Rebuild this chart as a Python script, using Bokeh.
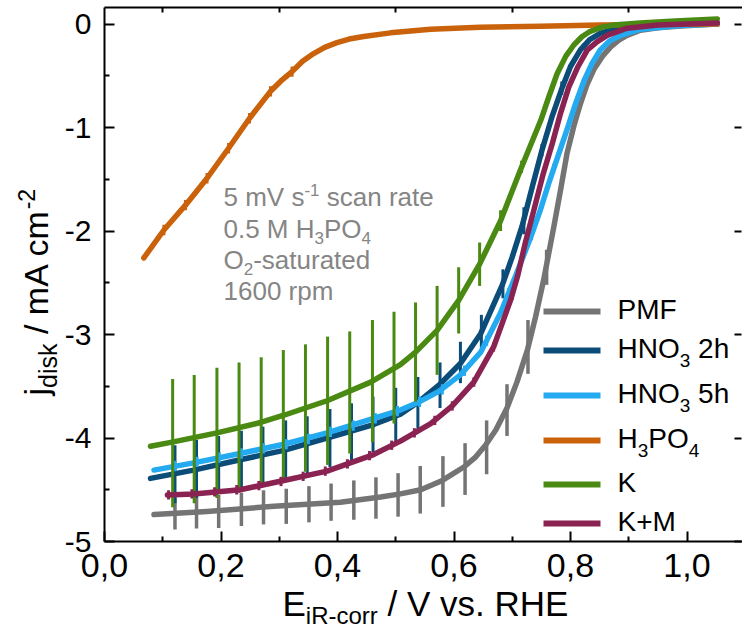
import numpy as np
from bokeh.plotting import figure
from bokeh.models import Range1d, LinearAxis, FixedTicker, CustomJSTickFormatter, Label
from bokeh.embed import file_html
from bokeh.resources import INLINE

# ---------------- data (E in V vs RHE, j in mA cm^-2) ----------------
series_names = ["PMF", "HNO3 2h", "HNO3 5h", "H3PO4", "K", "K+M"]

pmf_E = [0.085, 0.176, 0.291, 0.405, 0.474, 0.508, 0.543, 0.580, 0.617, 0.636, 0.654, 0.672, 0.691, 0.708,
         0.726, 0.740, 0.754, 0.771, 0.783, 0.794, 0.806, 0.817, 0.828, 0.840, 0.855, 0.869, 0.883, 0.897,
         0.920, 0.950, 0.989, 1.052]
pmf_j = [-4.74, -4.71, -4.66, -4.62, -4.57, -4.54, -4.50, -4.41, -4.28, -4.19, -4.07, -3.92, -3.71, -3.46,
         -3.15, -2.83, -2.47, -1.97, -1.60, -1.25, -0.98, -0.77, -0.59, -0.44, -0.31, -0.22, -0.155, -0.11,
         -0.06, -0.035, -0.02, 0.00]

h2_E = [0.079, 0.153, 0.233, 0.308, 0.382, 0.462, 0.508, 0.537, 0.574, 0.611, 0.646, 0.683, 0.700, 0.717,
        0.734, 0.751, 0.768, 0.786, 0.800, 0.817, 0.833, 0.851, 0.872, 0.897, 0.940, 1.052]
h2_j = [-4.39, -4.31, -4.21, -4.12, -4.00, -3.87, -3.77, -3.66, -3.49, -3.28, -2.99, -2.52, -2.25, -1.95,
        -1.58, -1.22, -0.90, -0.61, -0.41, -0.25, -0.15, -0.09, -0.05, -0.03, -0.01, 0.01]

h5_E = [0.085, 0.153, 0.233, 0.308, 0.382, 0.462, 0.508, 0.537, 0.574, 0.611, 0.646, 0.680, 0.706, 0.731,
        0.748, 0.762, 0.777, 0.794, 0.808, 0.823, 0.837, 0.851, 0.868, 0.886, 0.920, 0.989, 1.052]
h5_j = [-4.31, -4.24, -4.15, -4.06, -3.95, -3.81, -3.73, -3.66, -3.55, -3.39, -3.17, -2.79, -2.43, -2.07,
        -1.80, -1.55, -1.30, -1.02, -0.78, -0.55, -0.38, -0.25, -0.16, -0.11, -0.05, -0.015, 0.00]

hp_E = [0.0675, 0.102, 0.139, 0.176, 0.213, 0.249, 0.285, 0.303, 0.322, 0.340, 0.359, 0.378, 0.399, 0.420,
        0.445, 0.491, 0.560, 0.645, 0.749, 0.851, 0.950, 1.052]
hp_j = [-2.26, -1.99, -1.75, -1.49, -1.20, -0.91, -0.65, -0.55, -0.46, -0.36, -0.285, -0.225, -0.18, -0.145,
        -0.12, -0.085, -0.05, -0.03, -0.02, -0.01, -0.005, 0.00]

k_E = [0.079, 0.116, 0.193, 0.268, 0.308, 0.382, 0.457, 0.508, 0.534, 0.571, 0.608, 0.644, 0.680, 0.714,
       0.749, 0.763, 0.777, 0.792, 0.806, 0.820, 0.834, 0.854, 0.874, 0.920, 0.980, 1.052]
k_j = [-4.08, -4.04, -3.95, -3.85, -3.78, -3.64, -3.46, -3.29, -3.17, -2.96, -2.67, -2.32, -1.90, -1.41,
       -0.93, -0.70, -0.48, -0.31, -0.20, -0.12, -0.07, -0.03, -0.01, 0.01, 0.03, 0.05]

km_E = [0.108, 0.153, 0.233, 0.308, 0.382, 0.462, 0.508, 0.560, 0.597, 0.634, 0.668, 0.697, 0.709, 0.723,
        0.737, 0.753, 0.769, 0.783, 0.797, 0.813, 0.829, 0.846, 0.863, 0.897, 0.950, 1.052]
km_j = [-4.55, -4.54, -4.50, -4.41, -4.32, -4.16, -4.03, -3.86, -3.69, -3.46, -3.12, -2.67, -2.44, -2.10,
        -1.80, -1.45, -1.15, -0.86, -0.61, -0.41, -0.25, -0.17, -0.11, -0.04, -0.01, 0.01]

# error bars: position, mean, half-width
pmf_eE = [0.121, 0.158, 0.196, 0.235, 0.273, 0.312, 0.351, 0.389, 0.428, 0.466, 0.504, 0.542, 0.581, 0.619,
          0.656, 0.691, 0.727, 0.759]
pmf_ej = [-4.73, -4.72, -4.71, -4.69, -4.67, -4.66, -4.64, -4.62, -4.60, -4.58, -4.55, -4.50, -4.42, -4.30,
          -4.09, -3.73, -3.12, -2.35]
pmf_err = [0.155, 0.155, 0.16, 0.16, 0.165, 0.17, 0.175, 0.18, 0.19, 0.20, 0.21, 0.23, 0.245, 0.25,
           0.26, 0.25, 0.26, 0.17]

h2_eE = [0.121, 0.158, 0.196, 0.235, 0.272, 0.311, 0.348, 0.387, 0.424, 0.461, 0.500, 0.538, 0.576, 0.611,
         0.647, 0.684, 0.720, 0.751, 0.785, 0.822]
h2_ej = [-4.35, -4.30, -4.26, -4.21, -4.17, -4.12, -4.07, -4.00, -3.94, -3.87, -3.78, -3.66, -3.49, -3.27,
         -2.97, -2.51, -1.90, -1.22, -0.62, -0.22]
h2_err = [0.28, 0.28, 0.28, 0.28, 0.28, 0.29, 0.28, 0.28, 0.275, 0.27, 0.265, 0.25, 0.22, 0.20,
          0.16, 0.14, 0.13, 0.06, 0.065, 0.03]

h5_eE = [0.121, 0.159, 0.197, 0.235, 0.273, 0.312, 0.350, 0.388, 0.427, 0.465, 0.503, 0.541, 0.580, 0.618,
         0.656, 0.694, 0.733, 0.771]
h5_ej = [-4.27, -4.23, -4.19, -4.15, -4.10, -4.06, -4.01, -3.94, -3.88, -3.81, -3.74, -3.65, -3.53, -3.35,
         -3.06, -2.60, -2.04, -1.40]
h5_err = [0.05, 0.05, 0.05, 0.05, 0.05, 0.05, 0.05, 0.05, 0.05, 0.05, 0.05, 0.05, 0.05, 0.05,
          0.05, 0.05, 0.05, 0.05]

hp_eE = [0.102, 0.139, 0.176, 0.213, 0.249, 0.285, 0.322]
hp_ej = [-1.99, -1.75, -1.49, -1.20, -0.91, -0.65, -0.46]
hp_err = [0.05, 0.05, 0.05, 0.05, 0.05, 0.05, 0.05]

k_eE = [0.117, 0.154, 0.193, 0.231, 0.269, 0.307, 0.345, 0.383, 0.421, 0.460, 0.497, 0.534, 0.571, 0.608,
        0.644, 0.680, 0.716]
k_ej = [-4.05, -4.01, -3.95, -3.90, -3.85, -3.78, -3.71, -3.64, -3.56, -3.45, -3.32, -3.17, -2.96, -2.67,
        -2.32, -1.90, -1.38]
k_err = [0.62, 0.62, 0.63, 0.63, 0.63, 0.63, 0.615, 0.62, 0.59, 0.59, 0.54, 0.48, 0.43, 0.32,
         0.21, 0.10, 0.06]

km_eE = [0.110, 0.150, 0.189, 0.227, 0.265, 0.303, 0.341, 0.379, 0.417, 0.455, 0.493, 0.532, 0.567, 0.597,
         0.634, 0.668, 0.700, 0.726]
km_ej = [-4.55, -4.54, -4.52, -4.50, -4.46, -4.42, -4.37, -4.32, -4.25, -4.17, -4.07, -3.95, -3.83, -3.69,
         -3.46, -3.12, -2.62, -2.04]
km_err = [0.045, 0.045, 0.045, 0.045, 0.045, 0.045, 0.045, 0.045, 0.045, 0.045, 0.045, 0.045, 0.045, 0.045,
          0.045, 0.045, 0.045, 0.045]

x_ticks = [0.0, 0.2, 0.4, 0.6, 0.8, 1.0]
x_minor = [0.1, 0.3, 0.5, 0.7, 0.9]
y_ticks = [-5, -4, -3, -2, -1, 0]
y_minor = [-4.5, -3.5, -2.5, -1.5, -0.5]

# ---------------- layout / style ----------------
# The plot frame spans the whole canvas; axes sit at fixed data positions (with bounds)
# so that the axis titles placed around them are inside the frame.
W, H = 742, 629
AX_L, AX_T, AX_B = 104, 7, 541          # pixel positions of left, top, bottom axis lines
E_AT_LEFT, J_AT_TOP, J_AT_BOTTOM = 0.0, 0.16, -5.0
PX_PER_V = 582.5
PX_PER_J = (AX_B - AX_T) / (J_AT_TOP - J_AT_BOTTOM)
X0 = E_AT_LEFT - AX_L / PX_PER_V
X1 = X0 + W / PX_PER_V
Y1 = J_AT_TOP + AX_T / PX_PER_J
Y0 = Y1 - H / PX_PER_J
FONT = "Liberation Sans"

colors = {"PMF": "#747474", "HNO3 2h": "#0b4c78", "HNO3 5h": "#24aaf0",
          "H3PO4": "#c9620a", "K": "#4a8a12", "K+M": "#8a2352"}

p = figure(width=W, height=H, x_range=Range1d(X0, X1), y_range=Range1d(Y0, Y1),
           output_backend="svg", toolbar_location=None,
           min_border_left=0, min_border_right=0, min_border_top=0, min_border_bottom=0)
p.outline_line_color = None
p.grid.grid_line_color = None
p.background_fill_color = "white"
p.border_fill_color = "white"

def style_axis(ax, ticks, minor, tick_in, minor_in, show_labels=True, line=True):
    ax.ticker = FixedTicker(ticks=ticks, minor_ticks=minor)
    ax.major_tick_in = tick_in
    ax.major_tick_out = 0
    ax.minor_tick_in = minor_in
    ax.minor_tick_out = 0
    ax.major_tick_line_width = 2
    ax.minor_tick_line_width = 2
    ax.major_tick_line_color = "black"
    ax.minor_tick_line_color = "black"
    ax.axis_line_width = 2
    ax.axis_line_color = "black" if line else None
    ax.major_label_text_font = FONT
    ax.major_label_text_font_size = "30px"
    ax.major_label_text_color = "black"
    if show_labels:
        ax.major_label_standoff = 13
    else:
        ax.formatter = CustomJSTickFormatter(code="return '';")
        ax.major_label_standoff = 0

xax = p.xaxis[0]
style_axis(xax, x_ticks, x_minor, 10, 5)
xax.formatter = CustomJSTickFormatter(code="return tick.toFixed(1).replace('.', ',');")
xax.major_label_text_font_size = "34px"
xax.major_label_standoff = 12
xax.fixed_location = J_AT_BOTTOM
xax.bounds = (E_AT_LEFT, X1)

yax = p.yaxis[0]
style_axis(yax, y_ticks, y_minor, 10, 5)
yax.formatter = CustomJSTickFormatter(code="return tick.toFixed(0);")
yax.fixed_location = E_AT_LEFT
yax.bounds = (J_AT_BOTTOM, J_AT_TOP)

top = LinearAxis()
style_axis(top, x_minor, [], 5, 0, show_labels=False)
top.fixed_location = J_AT_TOP
top.bounds = (E_AT_LEFT, X1)
p.add_layout(top, "above")

right = LinearAxis()
style_axis(right, y_ticks, [], 7, 0, show_labels=False, line=False)
right.fixed_location = X1 - 1.0 / PX_PER_V
right.bounds = (J_AT_BOTTOM, J_AT_TOP)
p.add_layout(right, "right")

series = [
    ("PMF", pmf_E, pmf_j, pmf_eE, pmf_ej, pmf_err, 3.5),
    ("HNO3 2h", h2_E, h2_j, h2_eE, h2_ej, h2_err, 3),
    ("HNO3 5h", h5_E, h5_j, h5_eE, h5_ej, h5_err, 3),
    ("H3PO4", hp_E, hp_j, hp_eE, hp_ej, hp_err, 3),
    ("K", k_E, k_j, k_eE, k_ej, k_err, 3),
    ("K+M", km_E, km_j, km_eE, km_ej, km_err, 3),
]
for name, E, j, eE, ej, err, ew in series:
    c = colors[name]
    p.line(E, j, line_color=c, line_width=5.5, line_join="round", line_cap="round")
    ej_a = np.array(ej)
    err_a = np.array(err)
    p.segment(x0=eE, y0=ej_a - err_a, x1=eE, y1=ej_a + err_a, line_color=c, line_width=ew)

# ---------------- rich text helpers ----------------
AW = {' ': 278, '/': 278, '-': 333, '.': 278, ',': 278, '+': 584,
      'A': 667, 'E': 667, 'F': 611, 'H': 722, 'K': 667, 'M': 833, 'N': 722, 'O': 778, 'P': 667,
      'R': 722, 'V': 667,
      'a': 556, 'c': 500, 'd': 556, 'e': 556, 'h': 556, 'i': 222, 'j': 222, 'k': 500, 'm': 833,
      'n': 556, 'o': 556, 'p': 556, 'r': 333, 's': 500, 't': 278, 'u': 556, 'v': 500}
for dgt in "0123456789":
    AW[dgt] = 556

def tw(s, size):
    return sum(AW.get(ch, 556) for ch in s) * size / 1000.0

def px2x(px):
    return X0 + px / PX_PER_V

def px2y(py):
    return Y1 - py / PX_PER_J

BASE_COMP = 0.42   # rendered baseline sits this fraction of the font size below the anchor

def rich(pieces, px, py, color="black", vertical=False):
    cur = py if vertical else px
    for text, size, shift in pieces:
        lead = len(text) - len(text.lstrip(" "))
        start = cur + (-1 if vertical else 1) * tw(" " * lead, size)
        t = text.strip(" ")
        comp = BASE_COMP * size
        if t:
            if vertical:
                lab = Label(x=px2x(px + shift - comp), y=px2y(start), text=t, angle=np.pi / 2)
            else:
                lab = Label(x=px2x(start), y=px2y(py + shift - comp), text=t)
            lab.text_font = FONT
            lab.text_font_size = f"{size}px"
            lab.text_color = color
            lab.text_align = "left"
            lab.text_baseline = "alphabetic"
            p.add_layout(lab)
        cur = cur + (-1 if vertical else 1) * tw(text, size)

# axis titles
rich([("E", 35, 0), ("iR-corr", 24, 7), (" / V vs. RHE", 35, 0)], 282, 618)
rich([("j", 34, 0), ("disk", 25, 8), (" / mA cm", 34, 0), ("-2", 23, -14)], 50, 395, vertical=True)

# annotation
GREY = "#858585"
rich([("5 mV s", 26, 0), ("-1", 17, -10), (" scan rate", 26, 0)], 223, 207, GREY)
rich([("0.5 M H", 26, 0), ("3", 17, 6), ("PO", 26, 0), ("4", 17, 6)], 223, 239, GREY)
rich([("O", 26, 0), ("2", 17, 6), ("-saturated", 26, 0)], 223, 270, GREY)
rich([("1600 rpm", 26, 0)], 223, 301, GREY)

# legend
leg_rows = [
    ("PMF", [("PMF", 28, 0)], 311),
    ("HNO3 2h", [("HNO", 28, 0), ("3", 19, 8), (" 2h", 28, 0)], 350),
    ("HNO3 5h", [("HNO", 28, 0), ("3", 19, 8), (" 5h", 28, 0)], 395),
    ("H3PO4", [("H", 28, 0), ("3", 19, 8), ("PO", 28, 0), ("4", 19, 8)], 440),
    ("K", [("K", 28, 0)], 484),
    ("K+M", [("K+M", 28, 0)], 523),
]
for name, pieces, ly in leg_rows:
    p.segment(x0=[px2x(543)], y0=[px2y(ly)], x1=[px2x(600)], y1=[px2y(ly)],
              line_color=colors[name], line_width=6)
    rich(pieces, 617, ly + 10)

open("out.html", "w").write(file_html(p, INLINE))
